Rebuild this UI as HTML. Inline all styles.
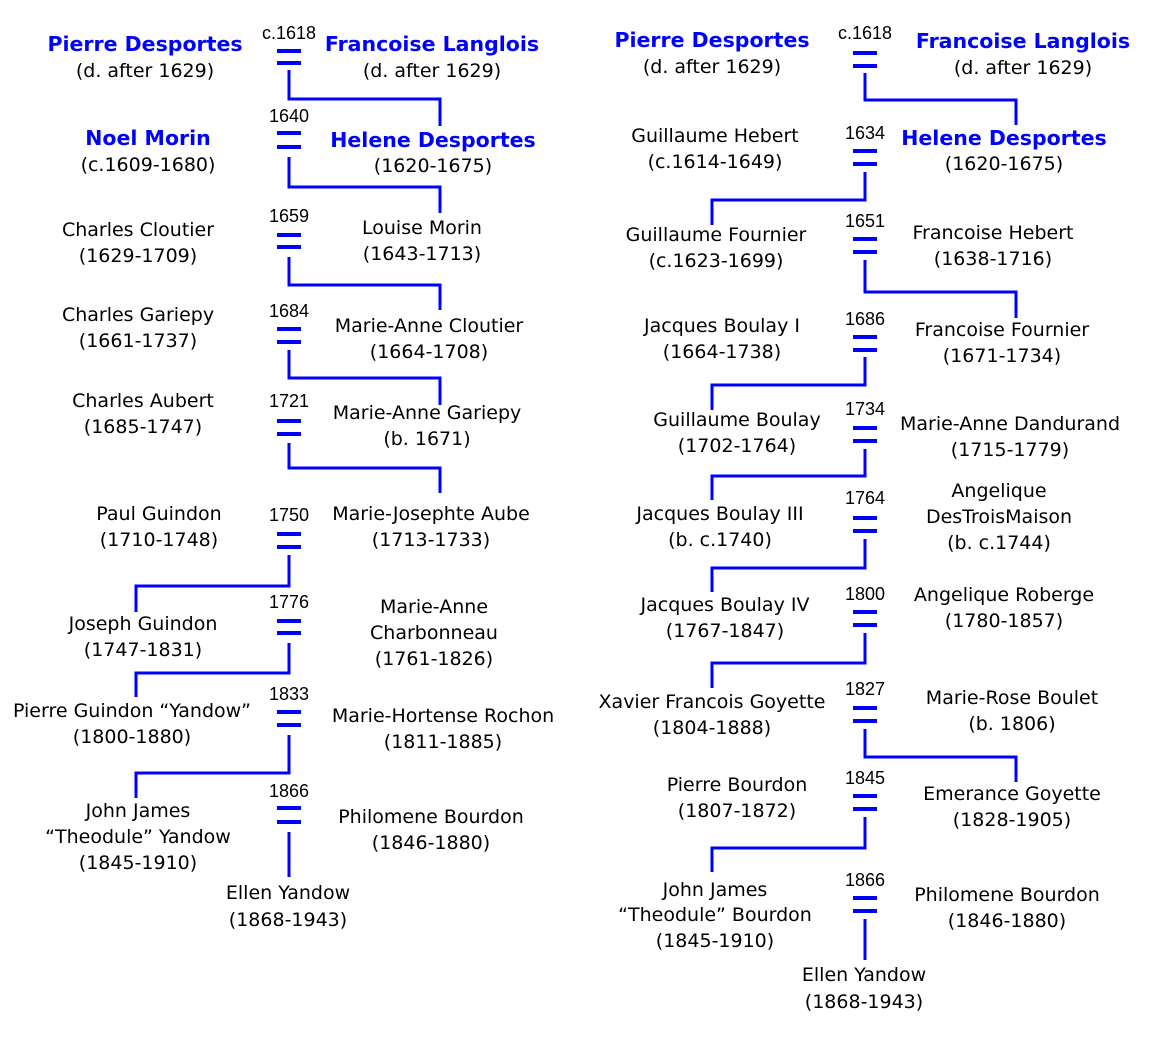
<!DOCTYPE html>
<html><head><meta charset="utf-8"><style>
html,body{margin:0;padding:0;background:#fff;}
svg{display:block;}
.n{font-family:"DejaVu Sans","Liberation Sans",sans-serif;font-size:19px;fill:#000;text-anchor:middle;dominant-baseline:central;}
.b{font-family:"DejaVu Sans","Liberation Sans",sans-serif;font-size:20.5px;font-weight:bold;fill:#0000ff;text-anchor:middle;dominant-baseline:central;}
.y{font-family:"Liberation Sans",sans-serif;font-size:18px;fill:#000;text-anchor:middle;dominant-baseline:central;}
.l{stroke:#0000ff;stroke-width:3;fill:none;}
.e{fill:#0000ff;}
</style></head><body>
<svg width="1151" height="1056" viewBox="0 0 1151 1056" xmlns="http://www.w3.org/2000/svg">
<g>
<text class="y" x="289" y="33">c.1618</text>
<rect class="e" x="277" y="49" width="24" height="4"/><rect class="e" x="277" y="61" width="24" height="4"/>
<polyline class="l" points="289,70 289,99 440,99 440,126"/>
<text class="y" x="289" y="116">1640</text>
<rect class="e" x="277" y="131" width="24" height="4"/><rect class="e" x="277" y="145" width="24" height="4"/>
<polyline class="l" points="289,157 289,187 440,187 440,213"/>
<text class="y" x="289" y="216">1659</text>
<rect class="e" x="277" y="233" width="24" height="4"/><rect class="e" x="277" y="245" width="24" height="4"/>
<polyline class="l" points="289,257 289,285 440,285 440,310"/>
<text class="y" x="289" y="311">1684</text>
<rect class="e" x="277" y="327" width="24" height="4"/><rect class="e" x="277" y="340" width="24" height="4"/>
<polyline class="l" points="289,350 289,378 440,378 440,405"/>
<text class="y" x="289" y="401">1721</text>
<rect class="e" x="277" y="419" width="24" height="4"/><rect class="e" x="277" y="432" width="24" height="4"/>
<polyline class="l" points="289,443 289,468 440,468 440,493"/>
<text class="y" x="289" y="515">1750</text>
<rect class="e" x="277" y="532" width="24" height="4"/><rect class="e" x="277" y="545" width="24" height="4"/>
<polyline class="l" points="289,555 289,586 136,586 136,612"/>
<text class="y" x="289" y="602">1776</text>
<rect class="e" x="277" y="619" width="24" height="4"/><rect class="e" x="277" y="631" width="24" height="4"/>
<polyline class="l" points="289,643 289,673 136,673 136,697"/>
<text class="y" x="289" y="694">1833</text>
<rect class="e" x="277" y="710" width="24" height="4"/><rect class="e" x="277" y="723" width="24" height="4"/>
<polyline class="l" points="289,735 289,773 136,773 136,798"/>
<text class="y" x="289" y="791">1866</text>
<rect class="e" x="277" y="806" width="24" height="4"/><rect class="e" x="277" y="820" width="24" height="4"/>
<polyline class="l" points="289,832 289,877"/>

<text class="b" x="145" y="44">Pierre Desportes</text><text class="n" x="145" y="71">(d. after 1629)</text>
<text class="b" x="432" y="44">Francoise Langlois</text><text class="n" x="432" y="71">(d. after 1629)</text>
<text class="b" x="148" y="138">Noel Morin</text><text class="n" x="148" y="165">(c.1609-1680)</text>
<text class="b" x="433" y="140">Helene Desportes</text><text class="n" x="433" y="166">(1620-1675)</text>
<text class="n" x="138" y="230">Charles Cloutier</text><text class="n" x="138" y="256">(1629-1709)</text>
<text class="n" x="422" y="228">Louise Morin</text><text class="n" x="422" y="254">(1643-1713)</text>
<text class="n" x="138" y="315">Charles Gariepy</text><text class="n" x="138" y="341">(1661-1737)</text>
<text class="n" x="429" y="326">Marie-Anne Cloutier</text><text class="n" x="429" y="352">(1664-1708)</text>
<text class="n" x="143" y="401">Charles Aubert</text><text class="n" x="143" y="427">(1685-1747)</text>
<text class="n" x="427" y="413">Marie-Anne Gariepy</text><text class="n" x="427" y="439">(b. 1671)</text>
<text class="n" x="159" y="514">Paul Guindon</text><text class="n" x="159" y="540">(1710-1748)</text>
<text class="n" x="431" y="514">Marie-Josephte Aube</text><text class="n" x="431" y="540">(1713-1733)</text>
<text class="n" x="143" y="624">Joseph Guindon</text><text class="n" x="143" y="650">(1747-1831)</text>
<text class="n" x="434" y="607">Marie-Anne</text><text class="n" x="434" y="633">Charbonneau</text><text class="n" x="434" y="659">(1761-1826)</text>
<text class="n" x="132" y="711">Pierre Guindon “Yandow”</text><text class="n" x="132" y="737">(1800-1880)</text>
<text class="n" x="443" y="716">Marie-Hortense Rochon</text><text class="n" x="443" y="742">(1811-1885)</text>
<text class="n" x="138" y="811">John James</text><text class="n" x="138" y="837">“Theodule” Yandow</text><text class="n" x="138" y="863">(1845-1910)</text>
<text class="n" x="431" y="817">Philomene Bourdon</text><text class="n" x="431" y="843">(1846-1880)</text>
<text class="n" x="288" y="893">Ellen Yandow</text><text class="n" x="288" y="920">(1868-1943)</text>
</g>

<g>
<text class="y" x="865" y="33">c.1618</text>
<rect class="e" x="853" y="51" width="24" height="4"/><rect class="e" x="853" y="64" width="24" height="4"/>
<polyline class="l" points="865,73 865,100 1016,100 1016,125"/>
<text class="y" x="865" y="133">1634</text>
<rect class="e" x="853" y="149" width="24" height="4"/><rect class="e" x="853" y="162" width="24" height="4"/>
<polyline class="l" points="865,172 865,200 712,200 712,225"/>
<text class="y" x="865" y="221">1651</text>
<rect class="e" x="853" y="237" width="24" height="4"/><rect class="e" x="853" y="250" width="24" height="4"/>
<polyline class="l" points="865,260 865,292 1016,292 1016,318"/>
<text class="y" x="865" y="319">1686</text>
<rect class="e" x="853" y="335" width="24" height="4"/><rect class="e" x="853" y="348" width="24" height="4"/>
<polyline class="l" points="865,357 865,385 712,385 712,410"/>
<text class="y" x="865" y="409">1734</text>
<rect class="e" x="853" y="426" width="24" height="4"/><rect class="e" x="853" y="439" width="24" height="4"/>
<polyline class="l" points="865,449 865,476 712,476 712,500"/>
<text class="y" x="865" y="498">1764</text>
<rect class="e" x="853" y="516" width="24" height="4"/><rect class="e" x="853" y="529" width="24" height="4"/>
<polyline class="l" points="865,539 865,568 712,568 712,592"/>
<text class="y" x="865" y="594">1800</text>
<rect class="e" x="853" y="610" width="24" height="4"/><rect class="e" x="853" y="623" width="24" height="4"/>
<polyline class="l" points="865,633 865,663 712,663 712,688"/>
<text class="y" x="865" y="689">1827</text>
<rect class="e" x="853" y="706" width="24" height="4"/><rect class="e" x="853" y="719" width="24" height="4"/>
<polyline class="l" points="865,729 865,757 1016,757 1016,782"/>
<text class="y" x="865" y="778">1845</text>
<rect class="e" x="853" y="794" width="24" height="4"/><rect class="e" x="853" y="807" width="24" height="4"/>
<polyline class="l" points="865,817 865,848 712,848 712,872"/>
<text class="y" x="865" y="880">1866</text>
<rect class="e" x="853" y="896" width="24" height="4"/><rect class="e" x="853" y="909" width="24" height="4"/>
<polyline class="l" points="865,919 865,960"/>

<text class="b" x="712" y="40">Pierre Desportes</text><text class="n" x="712" y="67">(d. after 1629)</text>
<text class="b" x="1023" y="41">Francoise Langlois</text><text class="n" x="1023" y="68">(d. after 1629)</text>
<text class="n" x="715" y="136">Guillaume Hebert</text><text class="n" x="715" y="162">(c.1614-1649)</text>
<text class="b" x="1004" y="138">Helene Desportes</text><text class="n" x="1004" y="164">(1620-1675)</text>
<text class="n" x="716" y="235">Guillaume Fournier</text><text class="n" x="716" y="261">(c.1623-1699)</text>
<text class="n" x="993" y="233">Francoise Hebert</text><text class="n" x="993" y="259">(1638-1716)</text>
<text class="n" x="722" y="326">Jacques Boulay I</text><text class="n" x="722" y="352">(1664-1738)</text>
<text class="n" x="1002" y="330">Francoise Fournier</text><text class="n" x="1002" y="356">(1671-1734)</text>
<text class="n" x="737" y="420">Guillaume Boulay</text><text class="n" x="737" y="446">(1702-1764)</text>
<text class="n" x="1010" y="424">Marie-Anne Dandurand</text><text class="n" x="1010" y="450">(1715-1779)</text>
<text class="n" x="720" y="514">Jacques Boulay III</text><text class="n" x="720" y="540">(b. c.1740)</text>
<text class="n" x="999" y="491">Angelique</text><text class="n" x="999" y="517">DesTroisMaison</text><text class="n" x="999" y="543">(b. c.1744)</text>
<text class="n" x="725" y="605">Jacques Boulay IV</text><text class="n" x="725" y="631">(1767-1847)</text>
<text class="n" x="1004" y="595">Angelique Roberge</text><text class="n" x="1004" y="621">(1780-1857)</text>
<text class="n" x="712" y="702">Xavier Francois Goyette</text><text class="n" x="712" y="728">(1804-1888)</text>
<text class="n" x="1012" y="698">Marie-Rose Boulet</text><text class="n" x="1012" y="724">(b. 1806)</text>
<text class="n" x="737" y="785">Pierre Bourdon</text><text class="n" x="737" y="811">(1807-1872)</text>
<text class="n" x="1012" y="794">Emerance Goyette</text><text class="n" x="1012" y="820">(1828-1905)</text>
<text class="n" x="715" y="890">John James</text><text class="n" x="715" y="915">“Theodule” Bourdon</text><text class="n" x="715" y="941">(1845-1910)</text>
<text class="n" x="1007" y="895">Philomene Bourdon</text><text class="n" x="1007" y="921">(1846-1880)</text>
<text class="n" x="864" y="975">Ellen Yandow</text><text class="n" x="864" y="1002">(1868-1943)</text>
</g>
</svg>
</body></html>
